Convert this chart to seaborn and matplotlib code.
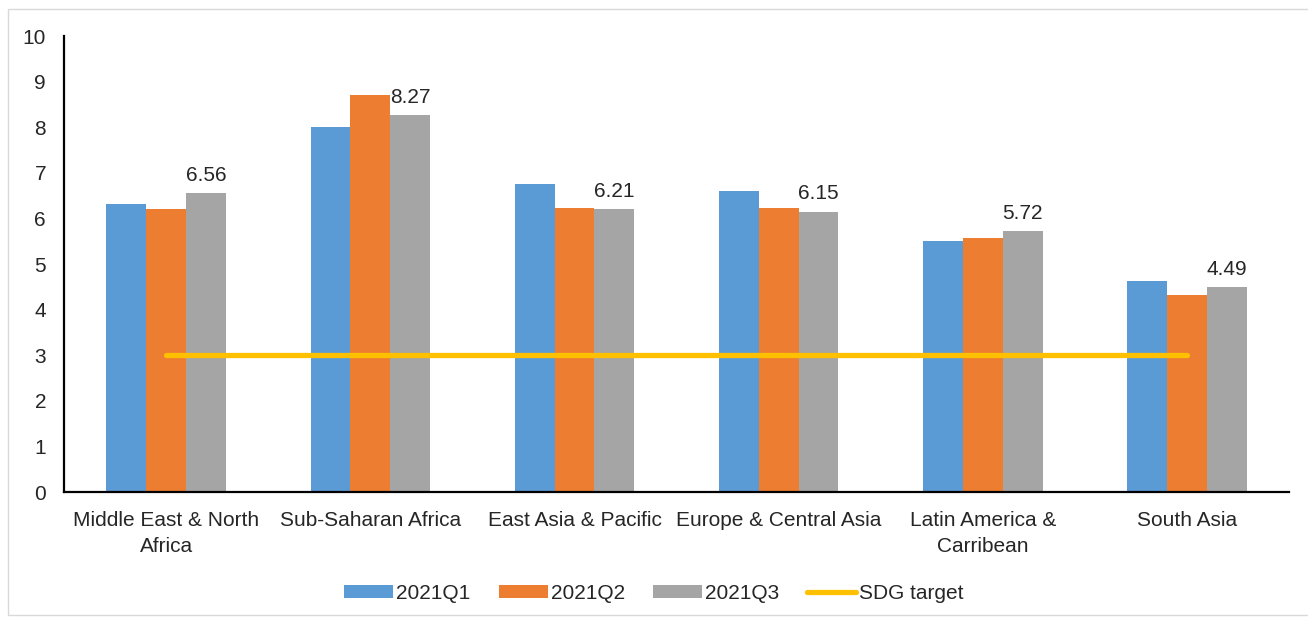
import pandas as pd
import numpy as np
import matplotlib.pyplot as plt
import seaborn as sns
from matplotlib.patches import Rectangle

# chart data
regions = ['Middle East & North\nAfrica', 'Sub-Saharan Africa', 'East Asia & Pacific',
           'Europe & Central Asia', 'Latin America &\nCarribean', 'South Asia']
q1 = [6.32, 8.01, 6.75, 6.61, 5.51, 4.62]
q2 = [6.20, 8.70, 6.23, 6.23, 5.57, 4.31]
q3 = [6.56, 8.27, 6.21, 6.15, 5.72, 4.49]
quarters = ['2021Q1', '2021Q2', '2021Q3']
sdg_target = 3
colors = ['#5B9BD5', '#ED7D31', '#A5A5A5']

df = pd.DataFrame({'Region': regions * 3,
                   'Quarter': np.repeat(quarters, len(regions)),
                   'Value': q1 + q2 + q3})

sns.set_style('white')
plt.rcParams['font.family'] = ['Liberation Sans', 'DejaVu Sans']
fs = 15

fig = plt.figure(figsize=(13.08, 6.21), dpi=100)
ax = fig.add_axes([0.049, 0.2077, 0.9365, 0.7343])

sns.barplot(data=df, x='Region', y='Value', hue='Quarter', palette=colors,
            width=0.585, saturation=1, linewidth=0, ax=ax, legend=True)

# value labels on Q3 bars only
ax.bar_label(ax.containers[2], labels=[f'{v:.2f}' for v in q3], padding=6, fontsize=fs)

# SDG target line across group centres
ax.plot([0, len(regions) - 1], [sdg_target, sdg_target], color='#FFC000', lw=3.8,
        solid_capstyle='round', label='SDG target', zorder=3)

ax.set_ylim(0, 10)
ax.set_xlim(-0.5, len(regions) - 0.5)
ax.set_yticks(range(0, 11))
ax.set_xlabel('')
ax.set_ylabel('')
ax.tick_params(axis='x', length=0, labelsize=fs, pad=14)
ax.tick_params(axis='y', length=0, labelsize=fs, pad=13)
for lbl in ax.get_xticklabels():
    lbl.set_linespacing(1.45)
for s in ['top', 'right']:
    ax.spines[s].set_visible(False)
for s in ['left', 'bottom']:
    ax.spines[s].set_color('black')
    ax.spines[s].set_linewidth(1.6)

handles, labels = ax.get_legend_handles_labels()
ax.legend(handles, labels, loc='center', bbox_to_anchor=(0.5, 0.045),
          bbox_transform=fig.transFigure, ncol=4, frameon=False, fontsize=fs,
          handlelength=2.35, handleheight=0.6, columnspacing=1.35, handletextpad=0.15)

# light frame around the chart
fig.patches.append(Rectangle((8 / 1308, 0.01), 1.0, 1 - 9 / 621 - 0.01,
                             transform=fig.transFigure, fill=False,
                             edgecolor='#D9D9D9', lw=1))

fig.savefig('out.png', dpi=100)
